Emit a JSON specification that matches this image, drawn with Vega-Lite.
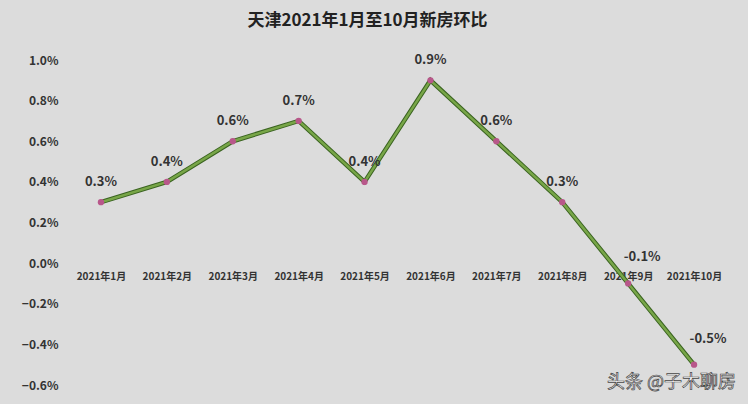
{
  "$schema": "https://vega.github.io/schema/vega-lite/v6.json",
  "autosize": {"type": "none"},
  "width": 659,
  "height": 325,
  "padding": {"left": 68, "top": 60, "right": 21, "bottom": 19},
  "background": "#dcdcdc",
  "title": {
    "text": "天津2021年1月至10月新房环比",
    "font": "Noto Sans CJK SC",
    "fontSize": 17,
    "fontWeight": "bold",
    "color": "#222222",
    "offset": 24,
    "dx": -30
  },
  "config": {
    "view": {"stroke": null},
    "font": "Noto Sans CJK SC"
  },
  "data": {
    "values": [
      {"month": "2021年1月", "v": 0.003, "label": "0.3%"},
      {"month": "2021年2月", "v": 0.004, "label": "0.4%"},
      {"month": "2021年3月", "v": 0.006, "label": "0.6%"},
      {"month": "2021年4月", "v": 0.007, "label": "0.7%"},
      {"month": "2021年5月", "v": 0.004, "label": "0.4%"},
      {"month": "2021年6月", "v": 0.009, "label": "0.9%"},
      {"month": "2021年7月", "v": 0.006, "label": "0.6%"},
      {"month": "2021年8月", "v": 0.003, "label": "0.3%"},
      {"month": "2021年9月", "v": -0.001, "label": "-0.1%"},
      {"month": "2021年10月", "v": -0.005, "label": "-0.5%"}
    ]
  },
  "encoding": {
    "x": {
      "field": "month", "type": "ordinal", "sort": null,
      "scale": {"paddingInner": 1, "paddingOuter": 0.5},
      "axis": {
        "title": null, "labelAngle": 0, "domain": false, "ticks": false,
        "offset": -122, "labelPadding": 8,
        "labelFont": "Noto Sans CJK SC", "labelFontSize": 10, "labelFontWeight": "bold",
        "labelColor": "#333333"
      }
    },
    "y": {
      "field": "v", "type": "quantitative",
      "scale": {"domain": [-0.006, 0.01], "nice": false},
      "axis": {
        "title": null, "format": ".1%", "values": [-0.006, -0.004, -0.002, 0, 0.002, 0.004, 0.006, 0.008, 0.01],
        "grid": false, "domain": false, "ticks": false, "labelPadding": 10,
        "labelFont": "Noto Sans CJK SC", "labelFontSize": 12, "labelFontWeight": "bold",
        "labelColor": "#333333"
      }
    }
  },
  "layer": [
    {"mark": {"type": "line", "color": "#3a6320", "strokeWidth": 4.5}},
    {"mark": {"type": "line", "color": "#78a648", "strokeWidth": 2.5}},
    {"mark": {"type": "point", "filled": true, "color": "#b8578a", "size": 40, "opacity": 1}},
    {
      "transform": [{"filter": "datum.v >= 0"}],
      "mark": {"type": "text", "dy": -20, "fontSize": 13, "fontWeight": "bold", "color": "#333333", "font": "Noto Sans CJK SC"},
      "encoding": {"text": {"field": "label"}}
    },
    {
      "transform": [{"filter": "datum.v < 0"}],
      "mark": {"type": "text", "dy": -26, "dx": 14, "fontSize": 13, "fontWeight": "bold", "color": "#333333", "font": "Noto Sans CJK SC"},
      "encoding": {"text": {"field": "label"}}
    },
    {
      "data": {"values": [{"month": "2021年10月", "v": -0.006, "wm": "头条 @子木聊房"}]},
      "mark": {"type": "text", "align": "right", "baseline": "bottom", "dx": 42, "dy": 7, "fontSize": 18, "color": "#ffffff", "stroke": "#444444", "strokeWidth": 0.7, "font": "Noto Sans CJK SC"},
      "encoding": {"text": {"field": "wm"}}
    }
  ]
}
